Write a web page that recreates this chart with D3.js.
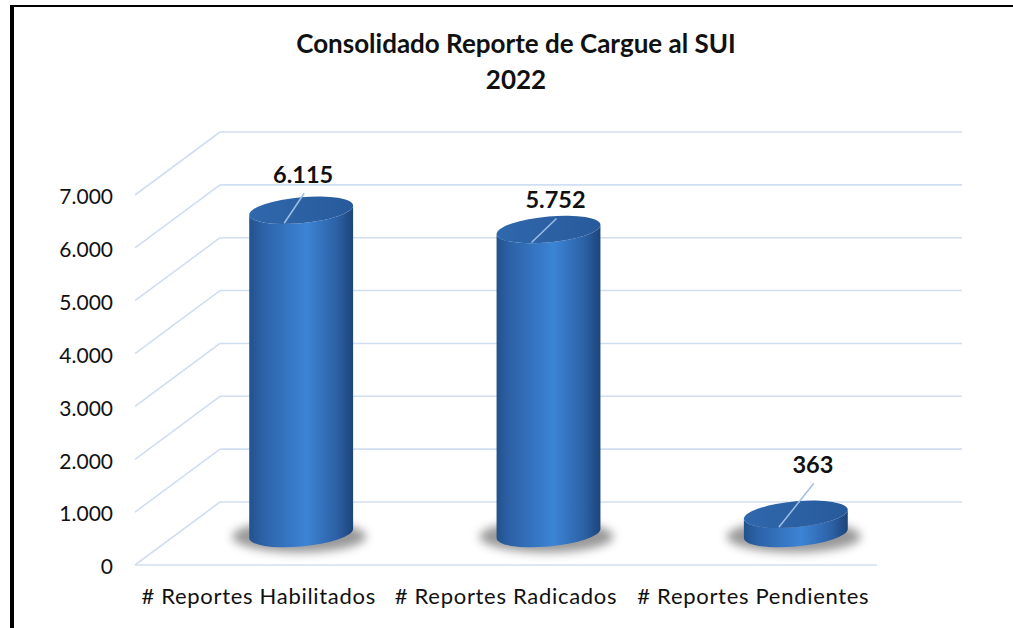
<!DOCTYPE html>
<html>
<head>
<meta charset="utf-8">
<script src="https://cdn.jsdelivr.net/npm/d3@7"></script>
<style>
  body { margin: 0; background: #fff; }
  svg { display: block; }
  text { font-family: Lato, "Noto Sans", sans-serif; fill: #111; }
</style>
</head>
<body>
<div id="viz"></div>
<script>
// chart data
const categories = ["# Reportes Habilitados", "# Reportes Radicados", "# Reportes Pendientes"];
const values = [6115, 5752, 363];
const yTicks = [0, 1000, 2000, 3000, 4000, 5000, 6000, 7000];
const titleLines = ["Consolidado Reporte de Cargue al SUI", "2022"];
// label nudges relative to the top of each cylinder (hand-moved in the original)
const labelOffsets = [[2, -27], [7, -21], [17, -41]];

const W = 1013, H = 628;
const depthX = 85, depthY = -63;

const fmt = d3.formatLocale({ decimal: ",", thousands: ".", grouping: [3], currency: ["$", ""] }).format(",d");

const svg = d3.select("#viz").append("svg")
  .attr("width", W)
  .attr("height", H);

const defs = svg.append("defs");

const bodyGrad = defs.append("linearGradient").attr("id", "body").attr("x1", 0).attr("x2", 1).attr("y1", 0).attr("y2", 0);
[[0, "#22528c"], [0.12, "#2c61a6"], [0.55, "#3c84d6"], [0.85, "#2c60a4"], [1, "#1c4479"]]
  .forEach(s => bodyGrad.append("stop").attr("offset", s[0]).attr("stop-color", s[1]));

const topGrad = defs.append("linearGradient").attr("id", "top").attr("x1", 0).attr("x2", 1).attr("y1", 0).attr("y2", 0);
[[0, "#3068ad"], [1, "#275a9b"]]
  .forEach(s => topGrad.append("stop").attr("offset", s[0]).attr("stop-color", s[1]));

defs.append("filter").attr("id", "blur").attr("x", "-50%").attr("y", "-100%").attr("width", "200%").attr("height", "300%")
  .append("feGaussianBlur").attr("stdDeviation", 5);

const x = d3.scaleBand()
  .domain(categories)
  .range([135, 877]);

const y = d3.scaleLinear()
  .domain([0, 7000])
  .range([565, 195]);

// walls: back gridlines + diagonals on the side wall
const grid = svg.append("g")
  .attr("stroke", "#d0def2")
  .attr("stroke-width", 1.6)
  .attr("fill", "none");

grid.selectAll(".back")
  .data(yTicks)
  .enter()
  .append("line")
  .attr("x1", x.range()[0] + depthX)
  .attr("x2", x.range()[1] + depthX)
  .attr("y1", d => y(d) + depthY)
  .attr("y2", d => y(d) + depthY);

grid.selectAll(".side")
  .data(yTicks)
  .enter()
  .append("line")
  .attr("x1", x.range()[0])
  .attr("x2", x.range()[0] + depthX)
  .attr("y1", d => y(d))
  .attr("y2", d => y(d) + depthY);

grid.append("line")
  .attr("x1", x.range()[0])
  .attr("x2", x.range()[1])
  .attr("y1", y(0))
  .attr("y2", y(0));

// y axis labels
svg.append("g")
  .attr("transform", `translate(${x.range()[0]},2)`)
  .call(d3.axisLeft(y).tickValues(yTicks).tickFormat(fmt).tickSize(0).tickPadding(22))
  .call(g => g.select(".domain").remove())
  .selectAll("text")
  .attr("font-family", "Lato, sans-serif")
  .attr("font-size", 21)
  .attr("fill", "#111");

// x axis labels
svg.append("g")
  .attr("transform", `translate(0,${y(0)})`)
  .call(d3.axisBottom(x).tickSize(0).tickPadding(23))
  .call(g => g.select(".domain").remove())
  .selectAll("text")
  .attr("font-family", "Lato, sans-serif")
  .attr("font-size", 22)
  .attr("letter-spacing", 0.7)
  .attr("fill", "#111");

// cylinders
const bw = x.bandwidth() * 0.42;
const ry = 13;
const midX = depthX / 2, midY = depthY / 2;

const bars = svg.selectAll(".bar")
  .data(categories.map((c, i) => ({ c, v: values[i], i })))
  .enter()
  .append("g")
  .attr("class", "bar");

bars.append("ellipse")
  .attr("cx", d => x(d.c) + x.bandwidth() / 2 + midX - 2)
  .attr("cy", y(0) + midY + 3)
  .attr("rx", bw / 2 + 15)
  .attr("ry", ry + 3)
  .attr("fill", "#555")
  .attr("opacity", 0.6)
  .attr("filter", "url(#blur)");

const cyl = bars.append("g")
  .attr("transform", d => `translate(${x(d.c) + x.bandwidth() / 2 + midX},${y(0) + midY}) skewY(-5)`);

cyl.append("path")
  .attr("fill", "url(#body)")
  .attr("d", d => {
    const r = bw / 2, t = y(d.v) - y(0);
    return `M${-r},${t} L${-r},0 A${r},${ry} 0 0 0 ${r},0 L${r},${t} A${r},${ry} 0 0 1 ${-r},${t} Z`;
  });

cyl.append("ellipse")
  .attr("cx", 0)
  .attr("cy", d => y(d.v) - y(0))
  .attr("rx", bw / 2)
  .attr("ry", ry)
  .attr("fill", "url(#top)");

// data labels with leader lines
bars.append("line")
  .attr("x1", d => x(d.c) + x.bandwidth() / 2 + midX + labelOffsets[d.i][0] + 1)
  .attr("y1", d => y(d.v) + midY + labelOffsets[d.i][1] + 10)
  .attr("x2", d => x(d.c) + x.bandwidth() / 2 + midX - 17)
  .attr("y2", d => y(d.v) + midY + 13)
  .attr("stroke", "#9dbfe6")
  .attr("stroke-width", 1.5);

bars.append("text")
  .attr("x", d => x(d.c) + x.bandwidth() / 2 + midX + labelOffsets[d.i][0])
  .attr("y", d => y(d.v) + midY + labelOffsets[d.i][1])
  .attr("text-anchor", "middle")
  .attr("font-size", 23.5)
  .attr("font-weight", "bold")
  .text(d => fmt(d.v));

// title
svg.append("g")
  .selectAll("text")
  .data(titleLines)
  .enter()
  .append("text")
  .attr("x", 516)
  .attr("y", (d, i) => 53 + i * 36)
  .attr("text-anchor", "middle")
  .attr("font-size", 26)
  .attr("font-weight", "bold")
  .text(d => d);

// frame
svg.append("line").attr("x1", 12).attr("x2", 12).attr("y1", 5).attr("y2", H).attr("stroke", "#000").attr("stroke-width", 4);
svg.append("line").attr("x1", 10).attr("x2", W).attr("y1", 6).attr("y2", 6).attr("stroke", "#000").attr("stroke-width", 2);
</script>
</body>
</html>
